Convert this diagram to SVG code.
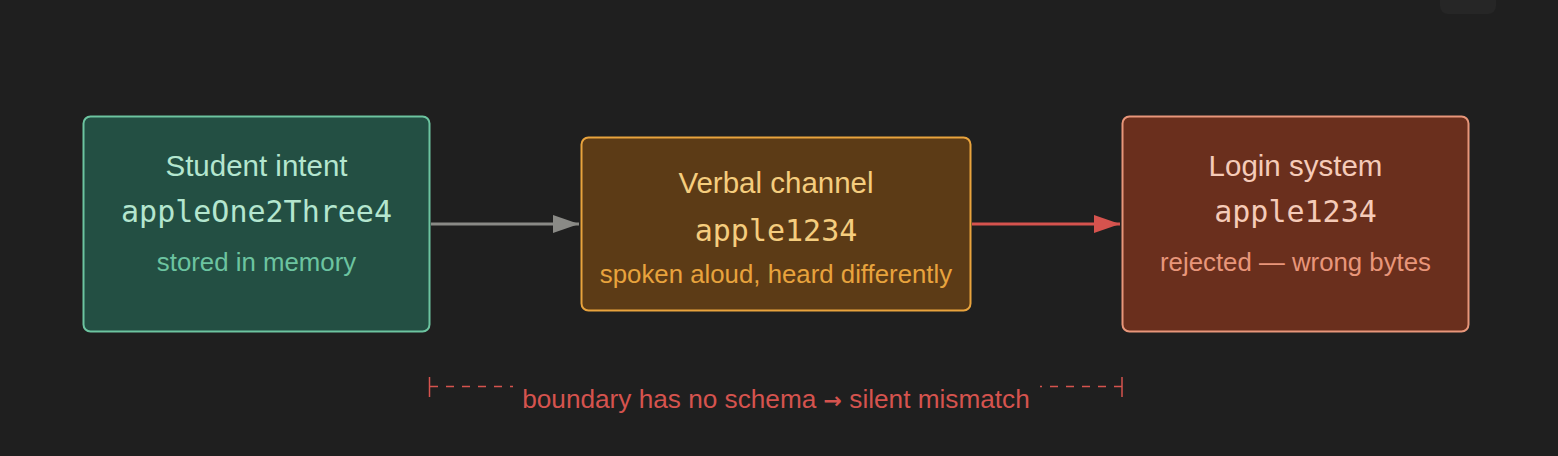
<svg xmlns="http://www.w3.org/2000/svg" width="1558" height="456" viewBox="0 0 1558 456">
  <defs>
    <style>
      .title { font-family: "Liberation Sans", Arial, sans-serif; font-size: 29.5px; text-anchor: middle; }
      .mono { font-family: "DejaVu Sans Mono", "Liberation Mono", monospace; font-size: 30px; text-anchor: middle; }
      .sub { font-family: "Liberation Sans", Arial, sans-serif; font-size: 25.8px; text-anchor: middle; }
      .note { font-family: "Liberation Sans", Arial, sans-serif; font-size: 26.2px; text-anchor: middle; fill: #d5534e; }
      .arrowglyph { font-family: "DejaVu Sans", sans-serif; font-weight: bold; }
      .dash { stroke: #d5534e; stroke-width: 1.5; stroke-dasharray: 8,8; }
    </style>
    <marker id="arrGray" viewBox="0 0 26 18" refX="26" refY="9" markerWidth="26" markerHeight="18" markerUnits="userSpaceOnUse" orient="auto">
      <path d="M0,0 L26,9 L0,18 Z" fill="#8a8a86"/>
    </marker>
    <marker id="arrRed" viewBox="0 0 26 18" refX="26" refY="9" markerWidth="26" markerHeight="18" markerUnits="userSpaceOnUse" orient="auto">
      <path d="M0,0 L26,9 L0,18 Z" fill="#d5534e"/>
    </marker>
  </defs>
  <rect x="0" y="0" width="1558" height="456" fill="#1f1f1f"/>
  <rect x="1440" y="-12" width="56" height="26" rx="8" fill="#262626"/>

  <g id="connectors">
    <line x1="431" y1="224" x2="579" y2="224" stroke="#8a8a86" stroke-width="3" marker-end="url(#arrGray)"/>
    <line x1="972" y1="224" x2="1120" y2="224" stroke="#d5534e" stroke-width="3" marker-end="url(#arrRed)"/>
  </g>

  <g id="student-intent">
    <rect x="83.5" y="116.5" width="346" height="215" rx="7" fill="#234f43" stroke="#6cc4a0" stroke-width="2"/>
    <text class="title" x="256.5" y="176" fill="#b4e6cf">Student intent</text>
    <text class="mono" x="256.5" y="222" fill="#b4e6cf">appleOne2Three4</text>
    <text class="sub" x="256.5" y="271" fill="#6cc4a0">stored in memory</text>
  </g>

  <g id="verbal-channel">
    <rect x="581.5" y="137.5" width="389" height="173" rx="7" fill="#5c3b16" stroke="#e8a33d" stroke-width="2"/>
    <text class="title" x="776" y="193" fill="#f5cd7e">Verbal channel</text>
    <text class="mono" x="776" y="241" fill="#f5cd7e">apple1234</text>
    <text class="sub" x="776" y="283" fill="#e8a33d">spoken aloud, heard differently</text>
  </g>

  <g id="login-system">
    <rect x="1122.5" y="116.5" width="346" height="215" rx="7" fill="#6a2f1d" stroke="#e8967a" stroke-width="2"/>
    <text class="title" x="1295.5" y="176" fill="#f5cbb8">Login system</text>
    <text class="mono" x="1295.5" y="222" fill="#f5cbb8">apple1234</text>
    <text class="sub" x="1295.5" y="271" fill="#e8967a">rejected — wrong bytes</text>
  </g>

  <g id="boundary">
    <line x1="429.5" y1="377" x2="429.5" y2="397" stroke="#d5534e" stroke-width="1.5"/>
    <line class="dash" x1="430" y1="386.5" x2="513" y2="386.5"/>
    <line x1="1122" y1="377" x2="1122" y2="397" stroke="#d5534e" stroke-width="1.5"/>
    <line class="dash" x1="1122" y1="386.5" x2="1040" y2="386.5"/>
    <text class="note" x="776" y="408">boundary has no schema <tspan class="arrowglyph" font-size="22px">→</tspan> silent mismatch</text>
  </g>
</svg>
